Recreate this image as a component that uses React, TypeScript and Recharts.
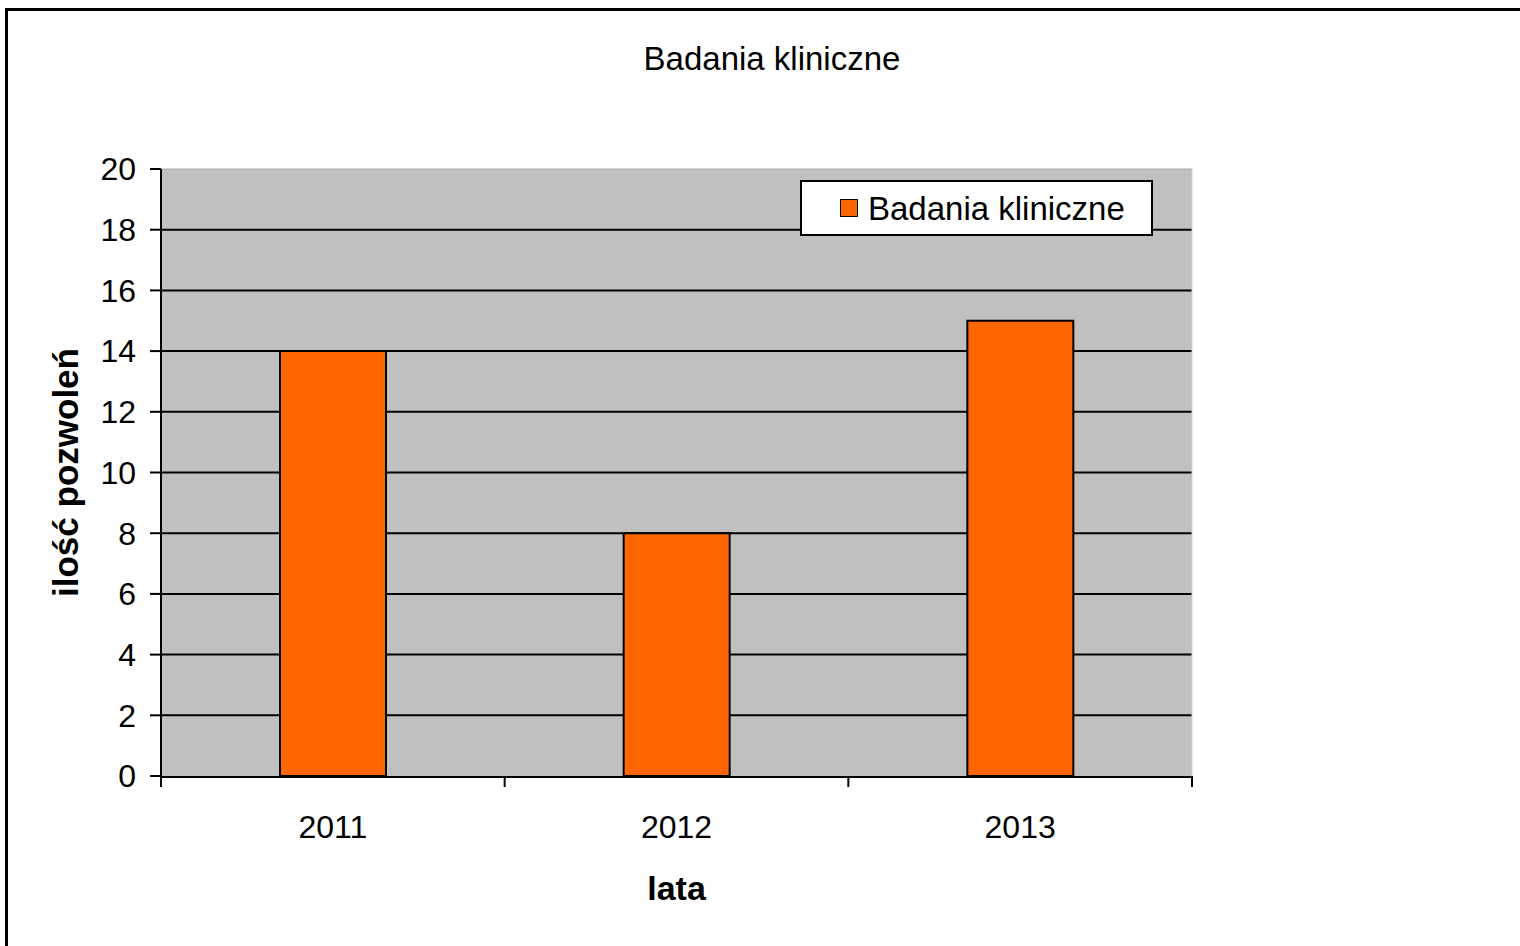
import React from 'react'
import {
  BarChart,
  Bar,
  XAxis,
  YAxis,
  CartesianGrid,
  Legend,
  Label,
  ReferenceLine,
} from 'recharts'

// Clinical trial permits per year
const years = ['2011', '2012', '2013']
const permits = [14, 8, 15]
const yTicks = [0, 2, 4, 6, 8, 10, 12, 14, 16, 18, 20]
const yearEdges = [0, 1, 2, 3]
const seriesName = 'Badania kliniczne'

// slot = centre of each year's column on a 0..n linear scale (for boundary ticks)
const chartData = years.map((year, i) => ({ year, slot: i + 0.5, count: permits[i] }))

const FONT = '"Liberation Sans", Arial, sans-serif'
const ORANGE = '#FF6600'

const LegendBox = () => (
  <div
    style={{
      display: 'flex',
      alignItems: 'center',
      height: '100%',
      paddingLeft: 38,
      boxSizing: 'border-box',
    }}
  >
    <span
      style={{
        display: 'inline-block',
        width: 16,
        height: 16,
        background: ORANGE,
        border: '1.5px solid #000',
        marginRight: 10,
      }}
    />
    <span style={{ fontSize: 33, color: '#000', lineHeight: 1 }}>{seriesName}</span>
  </div>
)

export default function App() {
  return (
    <div
      style={{
        position: 'fixed',
        left: 0,
        top: 0,
        width: 1520,
        height: 946,
        background: '#fff',
        fontFamily: FONT,
        overflow: 'hidden',
      }}
    >
      {/* outer frame, right and bottom edges run off the page */}
      <div
        style={{
          position: 'absolute',
          left: 5,
          top: 8,
          width: 1600,
          height: 1000,
          border: '3px solid #000',
        }}
      />
      <div
        style={{
          position: 'absolute',
          left: 0,
          top: 42,
          width: 1544,
          textAlign: 'center',
          fontSize: 33,
          lineHeight: '33px',
          color: '#000',
        }}
      >
        {seriesName}
      </div>
      <div style={{ position: 'absolute', left: 0, top: 0 }}>
        <BarChart
          width={1520}
          height={946}
          data={chartData}
          margin={{ top: 169, right: 328, left: 31, bottom: 39 }}
        >
          <CartesianGrid
            xAxisId="b-years"
            fill="#C0C0C0"
            fillOpacity={1}
            vertical={false}
            stroke="#000"
            strokeWidth={2}
            horizontalValues={yTicks.slice(1, -1)}
          />
          <XAxis
            xAxisId="b-years"
            dataKey="year"
            tickLine={false}
            axisLine={{ stroke: '#000', strokeWidth: 2 }}
            tick={{ fill: '#000', fontSize: 32 }}
            tickSize={6}
            tickMargin={32}
            height={130}
          >
            <Label
              value="lata"
              position="insideBottom"
              offset={7}
              style={{ fontSize: 34, fontWeight: 'bold', fill: '#000' }}
            />
          </XAxis>
          {/* boundary ticks between the year columns */}
          <XAxis
            xAxisId="a-edges"
            dataKey="slot"
            type="number"
            domain={[0, years.length]}
            allowDataOverflow
            ticks={yearEdges}
            interval={0}
            tick={() => null}
            axisLine={false}
            tickLine={{ stroke: '#000', strokeWidth: 2 }}
            tickSize={11}
            height={1}
          />
          <YAxis
            domain={[0, 20]}
            ticks={yTicks}
            interval={0}
            width={130}
            axisLine={{ stroke: '#000', strokeWidth: 2 }}
            tickLine={{ stroke: '#000', strokeWidth: 2 }}
            tickSize={11}
            tickMargin={14}
            tick={{ fill: '#000', fontSize: 32 }}
          >
            <Label
              value="ilość pozwoleń"
              angle={-90}
              position="insideLeft"
              offset={35}
              style={{ fontSize: 35, fontWeight: 'bold', fill: '#000', textAnchor: 'middle' }}
            />
          </YAxis>
          <ReferenceLine xAxisId="b-years" y={20} stroke="#A8A8A8" strokeWidth={1} />
          <ReferenceLine xAxisId="a-edges" x={3} stroke="#D0D0D0" strokeWidth={1} />
          <Legend
            layout="horizontal"
            align="center"
            verticalAlign="middle"
            content={<LegendBox />}
            wrapperStyle={{
              position: 'absolute',
              left: 800,
              top: 180,
              width: 353,
              height: 56,
              background: '#fff',
              border: '2px solid #000',
              boxSizing: 'border-box',
            }}
          />
          <Bar
            xAxisId="b-years"
            dataKey="count"
            name={seriesName}
            fill={ORANGE}
            stroke="#000"
            strokeWidth={2}
            barSize={106}
            isAnimationActive={false}
          />
        </BarChart>
      </div>
    </div>
  )
}
